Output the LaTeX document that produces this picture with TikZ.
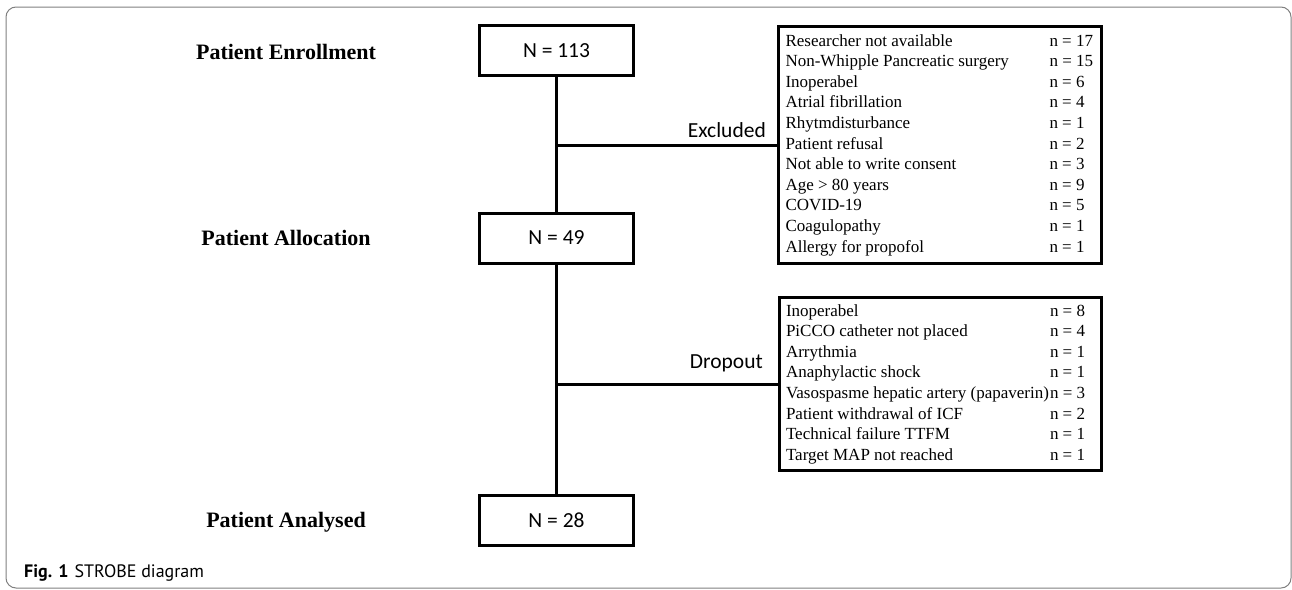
\documentclass[tikz,border=0pt]{standalone}
\usepackage{fontspec}
\setmainfont{Liberation Serif}
\newfontfamily\calfont{Carlito}
\newfontfamily\capfont{PT Sans}
\usetikzlibrary{positioning}
\newcommand{\lrow}[2]{\makebox[264pt][l]{#1}&\makebox[45pt][l]{#2}\\}

\begin{document}
\begin{tikzpicture}[x=1pt,y=-1pt,
		nbox/.style={draw,line width=3pt,minimum width=154pt,minimum height=50pt,inner sep=0pt,font=\calfont\fontsize{21.5}{24}\selectfont},
		lbox/.style={draw,line width=3pt,inner sep=0pt,font=\fontsize{17}{20.6}\selectfont},
		phase/.style={font=\bfseries\fontsize{22}{26}\selectfont},
		side/.style={anchor=base east,inner sep=0pt,font=\calfont\fontsize{21.5}{24}\selectfont},
		link/.style={line width=3pt}]
				\useasboundingbox(0,0)rectangle(1292,589);
				\draw[gray,line width=1pt,rounded corners=10pt](6,7)rectangle(1291,588);
				\node[phase](enrolT)at(286,52){Patient Enrollment};
				\node[phase](allocT)at(286,238){Patient Allocation};
				\node[phase](analT)at(286,522){Patient Analysed};
				\node[nbox](enrol)at(556.5,50.5){N = 113};
				\node[nbox](alloc)at(556.5,238){N = 49};
				\node[nbox](anal)at(556.5,520.5){N = 28};
				\node[lbox,minimum width=323pt,minimum height=237pt](excl)at(940,145){\begin{tabular}{@{}l@{}l@{}}
					\lrow{Researcher not available}{n = 17}
					\lrow{Non-Whipple Pancreatic surgery}{n = 15}
					\lrow{Inoperabel}{n = 6}
					\lrow{Atrial fibrillation}{n = 4}
					\lrow{Rhytmdisturbance}{n = 1}
					\lrow{Patient refusal}{n = 2}
					\lrow{Not able to write consent}{n = 3}
					\lrow{Age > 80 years}{n = 9}
					\lrow{COVID-19}{n = 5}
					\lrow{Coagulopathy}{n = 1}
					\lrow{Allergy for propofol}{n = 1}
				\end{tabular}};
				\node[lbox,minimum width=322pt,minimum height=173pt](drop)at(940.5,384){\begin{tabular}{@{}l@{}l@{}}
					\lrow{Inoperabel}{n = 8}
					\lrow{PiCCO catheter not placed}{n = 4}
					\lrow{Arrythmia}{n = 1}
					\lrow{Anaphylactic shock}{n = 1}
					\lrow{Vasospasme hepatic artery (papaverin)}{n = 3}
					\lrow{Patient withdrawal of ICF}{n = 2}
					\lrow{Technical failure TTFM}{n = 1}
					\lrow{Target MAP not reached}{n = 1}
				\end{tabular}};
				\coordinate(exj)at(enrol.south|-excl.west);
				\coordinate(drj)at(alloc.south|-drop.west);
				\draw[link](enrol)--(alloc);
				\draw[link](alloc)--(anal);
				\draw[link](exj)--(excl.west);
				\draw[link](drj)--(drop.west);
				\node[side](exlab)at([xshift=-11pt,yshift=8pt]excl.west){Excluded};
				\node[side](drlab)at([xshift=-15pt,yshift=16pt]drop.west){Dropout};
				\node[anchor=base west,inner sep=0pt,font=\capfont\fontsize{18}{20}\selectfont](cap)at(24,577){\textbf{Fig. 1}\hspace{6pt}STROBE diagram};
			\end{tikzpicture}
\end{document}
